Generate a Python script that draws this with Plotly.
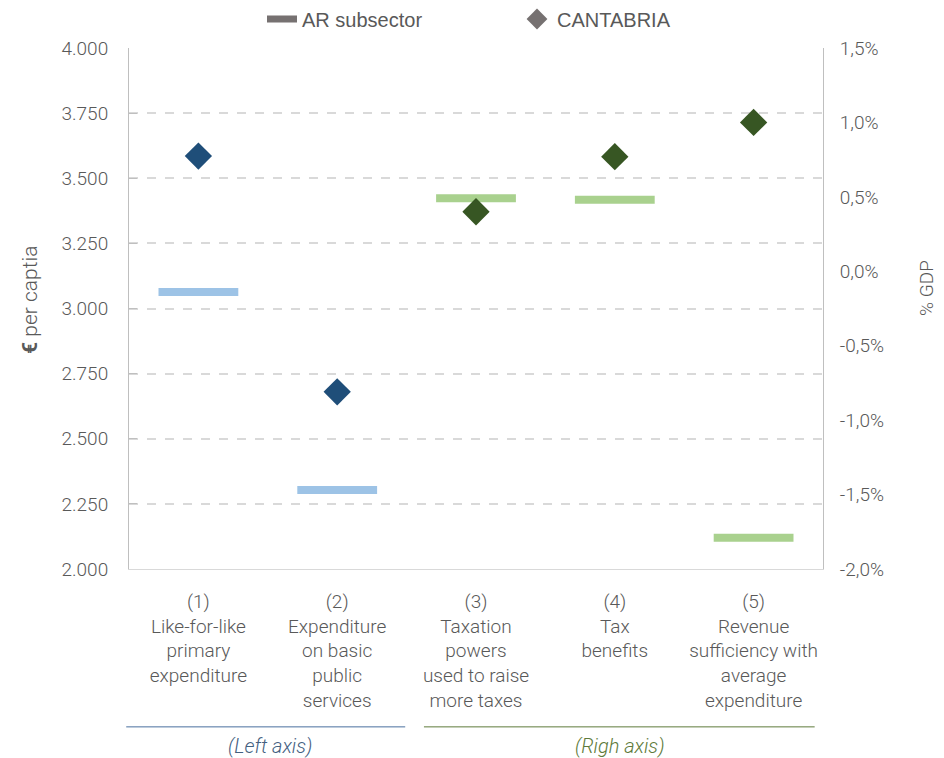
import plotly.graph_objects as go

categories = [
    "(1)<br>Like-for-like<br>primary<br>expenditure",
    "(2)<br>Expenditure<br>on basic<br>public<br>services",
    "(3)<br>Taxation<br>powers<br>used to raise<br>more taxes",
    "(4)<br>Tax<br>benefits",
    "(5)<br>Revenue<br>sufficiency with<br>average<br>expenditure",
]
# Left axis (€ per capita): categories 1-2
left_cats = categories[:2]
left_ar = [3063, 2303]
left_cantabria = [3585, 2680]
# Right axis (% GDP): categories 3-5
right_cats = categories[2:]
right_ar = [0.49, 0.48, -1.79]
right_cantabria = [0.40, 0.77, 1.00]

left_ticks = [2000, 2250, 2500, 2750, 3000, 3250, 3500, 3750, 4000]
right_ticks = [-2.0, -1.5, -1.0, -0.5, 0.0, 0.5, 1.0, 1.5]
right_ticktext = ["-2,0%", "-1,5%", "-1,0%", "-0,5%", "0,0%", "0,5%", "1,0%", "1,5%"]

FONT = "Roboto, Liberation Sans Narrow, sans-serif"
TXT = "#595959"
W, H = 936, 750  # page body adds an 8px margin

fig = go.Figure()
fig.add_trace(go.Scatter(x=left_cats, y=left_ar, mode="markers", yaxis="y", showlegend=False,
                         marker=dict(symbol="line-ew", size=57, line=dict(width=8, color="#9DC3E6"))))
fig.add_trace(go.Scatter(x=left_cats, y=left_cantabria, mode="markers", yaxis="y", showlegend=False,
                         marker=dict(symbol="diamond", size=21, color="#1F4E79", line=dict(width=0))))
fig.add_trace(go.Scatter(x=right_cats, y=right_ar, mode="markers", yaxis="y2", showlegend=False,
                         marker=dict(symbol="line-ew", size=57, line=dict(width=8, color="#A9D18E"))))
fig.add_trace(go.Scatter(x=right_cats, y=right_cantabria, mode="markers", yaxis="y2", showlegend=False,
                         marker=dict(symbol="diamond", size=21, color="#375623", line=dict(width=0))))
# legend entries
fig.add_trace(go.Scatter(x=[None], y=[None], mode="lines", name="AR subsector",
                         line=dict(color="#767171", width=7)))
fig.add_trace(go.Scatter(x=[None], y=[None], mode="markers", name="CANTABRIA",
                         marker=dict(symbol="diamond", size=20, color="#767171")))

fig.update_layout(
    width=W, height=H,
    margin=dict(l=121, r=121, t=40, b=189, autoexpand=False),
    paper_bgcolor="white", plot_bgcolor="white",
    separators=",.",
    font=dict(family=FONT, size=19, color=TXT, weight=300),
    showlegend=True,
    legend=dict(orientation="h", xref="container", x=254 / W, xanchor="left",
                yref="container", y=1 - 11 / H, yanchor="middle",
                font=dict(family="Liberation Sans Narrow, Arial Narrow, sans-serif", size=20, color=TXT, weight=400),
                entrywidth=210, entrywidthmode="pixels", itemwidth=30, tracegroupgap=0),
    hovermode=False,
    xaxis=dict(type="category", categoryorder="array", categoryarray=categories,
               range=[-0.5, 4.5], showgrid=False, showline=True, linecolor="#D9D9D9", linewidth=1,
               ticks="", ticklabelstandoff=15, tickfont=dict(size=19, color=TXT), automargin=False),
    yaxis=dict(range=[2000, 4000], tickvals=left_ticks, tickformat=",d",
               showgrid=True, gridcolor="#D9D9D9", griddash="dash", gridwidth=1.5,
               showline=True, linecolor="#BFBFBF", linewidth=1,
               ticks="inside", ticklen=8, tickcolor="#BFBFBF",
               ticklabelstandoff=16, zeroline=False, automargin=False),
    yaxis2=dict(range=[-2.0, 1.5], tickvals=right_ticks, ticktext=right_ticktext,
                overlaying="y", side="right", showgrid=False, zeroline=False,
                showline=True, linecolor="#BFBFBF", linewidth=1, ticks="",
                ticklabelstandoff=12, automargin=False),
)

# axis titles
fig.add_annotation(xref="paper", yref="paper", x=-0.143, y=0.516, xanchor="center", yanchor="middle",
                   textangle=-90, text="<b>€</b> per captia", showarrow=False,
                   font=dict(size=21, color=TXT))
fig.add_annotation(xref="paper", yref="paper", x=1.148, y=0.539, xanchor="center", yanchor="middle",
                   textangle=-90, text="% GDP", showarrow=False,
                   font=dict(size=19, color=TXT))

# axis-group captions below the category labels
fig.add_shape(type="line", xref="paper", yref="paper", x0=-0.004, x1=0.398, y0=-0.303, y1=-0.303,
              line=dict(color="#4A6F9E", width=1))
fig.add_shape(type="line", xref="paper", yref="paper", x0=0.425, x1=0.988, y0=-0.303, y1=-0.303,
              line=dict(color="#5E7A3A", width=1))
fig.add_annotation(xref="paper", yref="paper", x=0.203, y=-0.339, xanchor="center", yanchor="middle",
                   text="<i>(Left axis)</i>", showarrow=False, font=dict(size=20, color="#44607F"))
fig.add_annotation(xref="paper", yref="paper", x=0.707, y=-0.339, xanchor="center", yanchor="middle",
                   text="<i>(Righ axis)</i>", showarrow=False, font=dict(size=20, color="#5E7A3A"))

fig.write_html("out.html")
